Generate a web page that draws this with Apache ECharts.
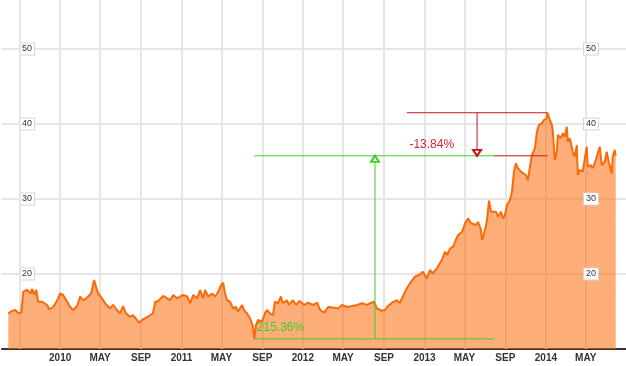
<!DOCTYPE html>
<html>
<head>
<meta charset="utf-8">
<script src="https://cdn.jsdelivr.net/npm/echarts@6/dist/echarts.min.js"></script>
<style>
html,body{margin:0;padding:0;background:#fff;}
#chart{width:626px;height:366px;}
</style>
</head>
<body>
<div id="chart"></div>
<script>
// ---- data ----
const dates = [
'2009-07-29','2009-08-10','2009-08-19','2009-08-28','2009-09-06','2009-09-12','2009-09-24','2009-10-03','2009-10-09','2009-10-15','2009-10-21','2009-10-27','2009-11-08','2009-11-14','2009-11-23','2009-11-29','2009-12-11','2009-12-23',
'2010-01-01','2010-01-10','2010-01-22','2010-01-31','2010-02-09','2010-02-21','2010-03-02','2010-03-11','2010-03-20','2010-03-26','2010-04-04','2010-04-13','2010-04-19','2010-04-25','2010-05-07','2010-05-16','2010-05-22','2010-05-31','2010-06-09','2010-06-21','2010-06-30','2010-07-09','2010-07-18','2010-07-30','2010-08-08','2010-08-20','2010-08-26','2010-09-07','2010-09-22','2010-10-07','2010-10-14','2010-10-23','2010-11-07','2010-11-19','2010-11-28','2010-12-07','2010-12-19','2010-12-28',
'2011-01-06','2011-01-18','2011-01-27','2011-02-05','2011-02-17','2011-02-26','2011-03-07','2011-03-13','2011-03-22','2011-04-03','2011-04-12','2011-04-21','2011-04-30','2011-05-06','2011-05-12','2011-05-18','2011-05-27','2011-06-05','2011-06-14','2011-06-20','2011-07-02','2011-07-08','2011-07-17','2011-07-26','2011-08-04','2011-08-08','2011-08-13','2011-08-19','2011-08-31','2011-09-09','2011-09-15','2011-09-24','2011-10-03','2011-10-09','2011-10-18','2011-10-27','2011-11-02','2011-11-14','2011-11-20','2011-12-02','2011-12-12','2011-12-22',
'2012-01-05','2012-01-17','2012-02-01','2012-02-13','2012-02-22','2012-03-05','2012-03-17','2012-04-01','2012-04-16','2012-04-28','2012-05-13','2012-05-28','2012-06-12','2012-06-27','2012-07-12','2012-07-21','2012-08-02','2012-08-08','2012-08-11','2012-08-26','2012-09-04','2012-09-10','2012-09-25','2012-10-10','2012-10-19','2012-10-25','2012-11-06','2012-11-18','2012-12-03','2012-12-15','2012-12-27',
'2013-01-08','2013-01-17','2013-01-26','2013-02-07','2013-02-13','2013-02-22','2013-03-04','2013-03-10','2013-03-19','2013-03-28','2013-04-03','2013-04-12','2013-04-24','2013-05-03','2013-05-12','2013-05-21','2013-05-27','2013-06-05','2013-06-11','2013-06-20','2013-06-23','2013-07-02','2013-07-08','2013-07-14','2013-07-20','2013-07-26','2013-08-04','2013-08-10','2013-08-19','2013-08-25','2013-08-31','2013-09-06','2013-09-15','2013-09-21','2013-09-27','2013-10-03','2013-10-09','2013-10-18','2013-10-24','2013-11-02','2013-11-08','2013-11-14','2013-11-20','2013-11-29','2013-12-05','2013-12-11','2013-12-20','2013-12-26',
'2014-01-03','2014-01-06','2014-01-13','2014-01-19','2014-01-22','2014-01-28','2014-02-03','2014-02-06','2014-02-15','2014-02-21','2014-02-27','2014-03-05','2014-03-08','2014-03-14','2014-03-23','2014-03-29','2014-04-04','2014-04-07','2014-04-13','2014-04-22','2014-04-28','2014-05-04','2014-05-07','2014-05-16','2014-05-22','2014-05-31','2014-06-06','2014-06-12','2014-06-18','2014-06-27','2014-07-03','2014-07-09','2014-07-18','2014-07-21','2014-07-27','2014-07-30'
];
const prices = [
14.76,15.1,15.2,14.8,14.85,17.65,17.9,17.4,18.0,17.2,17.9,16.3,16.3,16.1,15.87,15.3,15.6,16.5,
17.4,17.2,16.3,15.6,15.2,15.7,17.0,16.5,16.75,16.5,17.4,19.2,18.3,17.4,16.75,16.1,16.1,15.4,15.9,15.2,14.76,15.7,14.76,14.3,14.5,13.87,13.5,13.96,14.3,14.76,16.3,16.4,17.07,16.75,16.5,17.2,16.75,17.0,
17.2,17.0,16.1,17.2,16.75,17.87,16.75,17.87,17.0,17.4,17.0,17.6,18.5,18.85,17.4,16.5,16.3,15.4,15.6,14.97,15.87,15.2,14.76,14.1,13.0,11.34,13.2,13.87,13.64,14.76,15.2,14.76,14.5,16.3,16.1,17.0,16.1,16.5,15.87,16.5,15.87,16.4,
15.87,16.17,15.87,16.17,15.2,14.85,15.6,15.55,15.4,15.87,15.6,15.73,15.87,16.1,15.87,16.1,16.3,16.45,15.4,15.1,15.2,15.6,16.17,16.5,16.17,16.75,17.87,18.76,19.64,19.87,20.3,
19.4,20.53,20.1,20.76,20.97,21.87,22.97,22.53,23.4,23.64,24.3,25.2,25.64,26.76,27.4,26.76,26.97,26.53,26.97,25.87,24.53,25.87,27.2,29.77,28.3,28.1,28.3,27.64,28.3,27.4,27.87,29.2,29.87,30.97,33.64,34.76,34.1,33.64,33.4,33.2,32.53,34.3,35.87,36.76,38.97,39.87,40.1,40.53,
40.76,41.5,40.53,39.87,38.97,35.2,36.3,38.53,38.1,38.76,38.3,39.64,37.64,38.1,36.3,35.64,37.2,33.2,33.87,33.64,35.4,36.97,34.3,34.53,34.1,35.2,35.4,36.97,34.53,34.97,36.3,34.97,33.4,35.64,36.53,35.76
];
const tickDates = ['2009-09-01','2010-01-01','2010-05-01','2010-09-01','2011-01-01','2011-05-01','2011-09-01','2012-01-01','2012-05-01','2012-09-01','2013-01-01','2013-05-01','2013-09-01','2014-01-01','2014-05-01'];
const tickLabels = ['','2010','MAY','SEP','2011','MAY','SEP','2012','MAY','SEP','2013','MAY','SEP','2014','MAY'];
const yTicks = [20, 30, 40, 50];
// annotation spans (dates)
const gainSpan = ['2011-08-08', '2012-08-05', '2013-07-29']; // start, arrow, end
const lossSpan = ['2012-11-09', '2013-06-08', '2014-01-06']; // start, arrow, end
const gainLabel = '215.36%';
const lossLabel = '-13.84%';

// ---- derived ----
const P = s => +echarts.time.parse(s);
const seriesData = dates.map((d, i) => [P(d), prices[i]]);
const lowVal = Math.min.apply(null, prices);
const highVal = Math.max.apply(null, prices);
const lastVal = prices[prices.length - 1];
const tickTimes = tickDates.map(P);
const labelTimes = tickTimes.filter((t, i) => tickLabels[i] !== '');
const G = gainSpan.map(P), L = lossSpan.map(P);

const GREEN = '#3fcf2a', RED = '#c4161e';
const ORANGE = '#fb6a0a';
const GRIDC = '#e6e6e6';
const Y_MIN = 10, Y_MAX = 56.5333;
const lblFont = '"Liberation Sans", Arial, sans-serif';

function seg(a, b, color, z) {
  return {
    type: 'line', z: z, silent: true, color: color,
    data: [a, b], symbol: 'none', showSymbol: false,
    lineStyle: {color: color, width: 1, type: 'solid', opacity: 1},
    emphasis: {disabled: true}
  };
}
function note(pt, text, color) {
  return {
    type: 'scatter', z: 9, silent: true, data: [pt],
    symbol: 'circle', symbolSize: 1,
    itemStyle: {color: 'rgba(0,0,0,0)', opacity: 1},
    label: {show: true, position: 'right', distance: 2, offset: [0, -11], formatter: text,
            color: color, opacity: 1, fontSize: 12, fontFamily: lblFont},
    emphasis: {disabled: true}
  };
}

const chart = echarts.init(document.getElementById('chart'), null, {renderer: 'canvas'});
const yLabelBase = {
  inside: true, fontSize: 9, color: '#333', fontFamily: lblFont,
  backgroundColor: '#fff', borderColor: '#d6d6d6', borderWidth: 1, padding: [1, 2], lineHeight: 9,
  showMinLabel: false, showMaxLabel: false,
  formatter: v => (yTicks.indexOf(v) >= 0 ? String(v) : '')
};
chart.setOption({
  animation: false,
  backgroundColor: '#fff',
  grid: {left: 2, right: 0, top: 0, bottom: 17, containLabel: false},
  xAxis: {
    type: 'value', min: P('2009-07-10'), max: P('2014-08-30'),
    axisLine: {show: true, lineStyle: {color: '#333', width: 2}, onZero: false},
    axisTick: {show: false},
    axisLabel: {
      customValues: labelTimes, margin: 4, fontSize: 10, fontWeight: 'bold', color: '#333',
      fontFamily: '"Liberation Sans Narrow", "Arial Narrow", "Liberation Sans", Arial, sans-serif',
      hideOverlap: false,
      formatter: function (v) {
        let best = -1, bd = Infinity;
        tickTimes.forEach((t, i) => { const dd = Math.abs(t - v); if (dd < bd) { bd = dd; best = i; } });
        return best >= 0 ? tickLabels[best] : '';
      }
    },
    splitLine: {show: false}
  },
  yAxis: [
    {type: 'value', min: Y_MIN, max: Y_MAX, interval: 10, position: 'left',
     axisLine: {show: false}, axisTick: {show: false},
     splitLine: {show: true, showMaxLine: false, lineStyle: {color: GRIDC, width: 2}},
     axisLabel: Object.assign({margin: 18}, yLabelBase)},
    {type: 'value', min: Y_MIN, max: Y_MAX, interval: 10, position: 'right', z: 10,
     axisLine: {show: false}, axisTick: {show: false}, splitLine: {show: false},
     axisLabel: Object.assign({margin: 28}, yLabelBase)}
  ],
  series: [
    {
      // vertical grid lines at month ticks
      type: 'line', data: [], z: 1, silent: true, color: GRIDC,
      markLine: {
        silent: true, symbol: ['none', 'none'], z: 1, animation: false,
        lineStyle: {color: GRIDC, width: 2, type: 'solid'},
        label: {show: false},
        data: tickTimes.map(t => ({xAxis: t}))
      }
    },
    {
      type: 'line', data: seriesData, showSymbol: false, symbol: 'none', z: 2,
      color: ORANGE,
      lineStyle: {color: ORANGE, width: 2},
      itemStyle: {color: ORANGE},
      areaStyle: {color: ORANGE, opacity: 0.55, origin: 'start'}
    },
    // loss (red) annotation; its lower leg is hidden under the green line up to the gain span end
    seg([L[0], highVal], [L[2], highVal], RED, 5),
    seg([G[2], lastVal], [L[2], lastVal], RED, 5),
    seg([L[1], highVal], [L[1], lastVal], RED, 5),
    note([L[0], lastVal], lossLabel, '#d02830'),
    // gain (green) annotation
    seg([G[0], lowVal], [G[2], lowVal], GREEN, 6),
    seg([G[0], lastVal], [G[2], lastVal], GREEN, 6),
    seg([G[1], lowVal], [G[1], lastVal], GREEN, 6),
    note([G[0], lowVal], gainLabel, GREEN),
    {
      type: 'scatter', z: 8, silent: true,
      data: [[G[1], lastVal]],
      symbol: 'emptyTriangle', symbolSize: [8, 6], symbolOffset: [0, 3],
      itemStyle: {color: GREEN, borderColor: GREEN, borderWidth: 1, opacity: 1}
    },
    {
      type: 'scatter', z: 8, silent: true,
      data: [[L[1], lastVal]],
      symbol: 'emptyTriangle', symbolSize: [8, 6], symbolRotate: 180, symbolOffset: [0, -3],
      itemStyle: {color: RED, borderColor: RED, borderWidth: 1, opacity: 1}
    }
  ]
});
</script>
</body>
</html>
